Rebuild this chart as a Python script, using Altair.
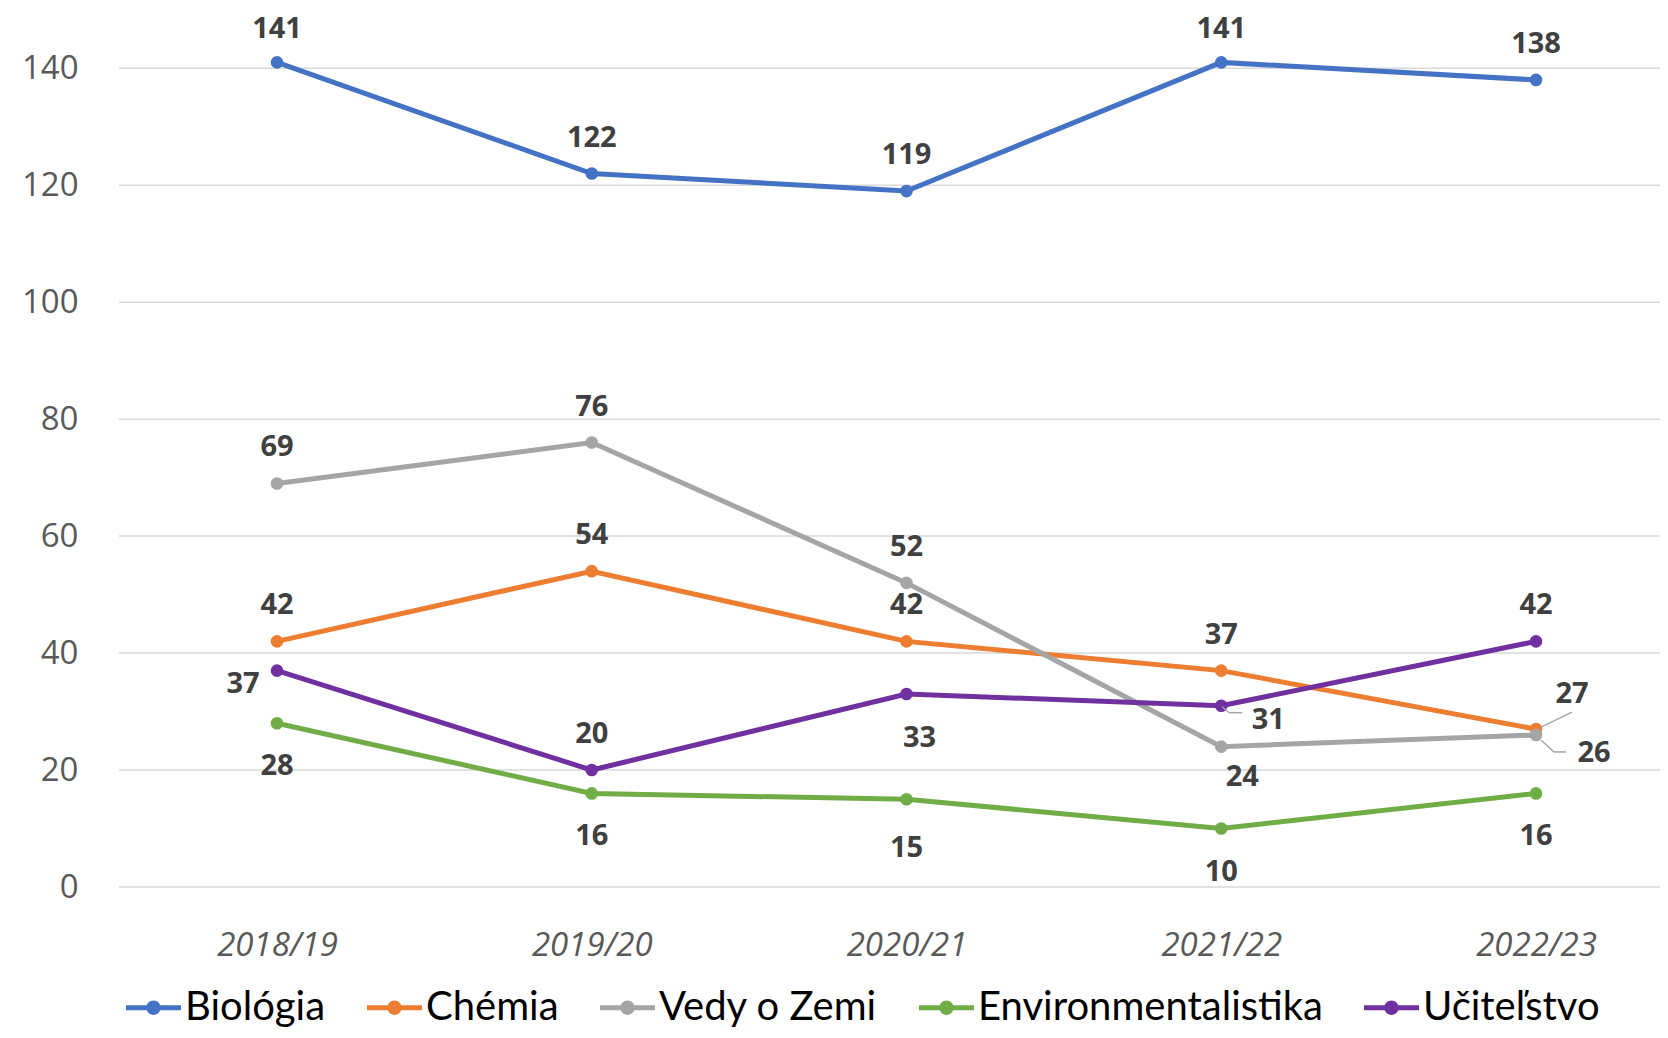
import altair as alt
import pandas as pd

years = ["2018/19", "2019/20", "2020/21", "2021/22", "2022/23"]
series = ["Biológia", "Chémia", "Vedy o Zemi", "Environmentalistika", "Učiteľstvo"]
biologia = [141, 122, 119, 141, 138]
chemia = [42, 54, 42, 37, 27]
vedy = [69, 76, 52, 24, 26]
env = [28, 16, 15, 10, 16]
ucitelstvo = [37, 20, 33, 31, 42]
colors = ["#4472C4", "#ED7D31", "#A5A5A5", "#70AD47", "#7030A0"]
y_ticks = [0, 20, 40, 60, 80, 100, 120, 140]

# label placement per point (style, not data)
placements = {
    "Biológia": ["above_top", "above", "above", "above_top", "above"],
    "Chémia": ["above", "above", "above", "above", "chem27"],
    "Vedy o Zemi": ["above", "above", "above", "vedy24", "vedy26"],
    "Environmentalistika": ["below", "below", "below_far", "below", "below"],
    "Učiteľstvo": ["left", "above", "ucit33", "ucit31", "above"],
}
offsets = {
    "above": (0, -36), "above_top": (0, -33), "below": (0, 43), "below_far": (0, 49),
    "left": (-34, 13), "chem27": (36, -35), "vedy24": (21, 30), "vedy26": (58, 18),
    "ucit33": (13, 44), "ucit31": (47, 14),
}
# leader lines: series, year, x offset, y offset, x2 offset, y2 offset
leaders = [
    ("Učiteľstvo", "2021/22", 1, 1, 8, 7),
    ("Učiteľstvo", "2021/22", 8, 7, 21, 7),
    ("Chémia", "2022/23", 5, -2, 36, -17),
    ("Vedy o Zemi", "2022/23", 5, 5, 18, 17),
    ("Vedy o Zemi", "2022/23", 18, 17, 30, 17),
]

values = [biologia, chemia, vedy, env, ucitelstvo]
rows = []
for s, vals in zip(series, values):
    for y, v, p in zip(years, vals, placements[s]):
        rows.append({"year": y, "series": s, "value": v, "place": p})
df = pd.DataFrame(rows)
grid_df = pd.DataFrame({"tick": y_ticks})

W, H = 1541, 879
x_enc = alt.X("year:N", sort=years,
              scale=alt.Scale(type="point", range=[158, 1417], padding=0),
              axis=alt.Axis(title=None, ticks=False, tickSize=0, domain=False, grid=False,
                            labelFont="Open Sans", labelFontSize=33, labelFontStyle="italic",
                            labelColor="#595959", labelBaseline="middle", labelPadding=58,
                            labelAngle=0))
y_scale = alt.Scale(domain=[0, 150.3], nice=False, zero=True)
y_axis = alt.Axis(title=None, values=y_ticks, ticks=False, tickSize=0, domain=False,
                  grid=False, labelFont="Open Sans", labelFontSize=33,
                  labelColor="#595959", labelPadding=41)
y_enc = alt.Y("value:Q", scale=y_scale, axis=y_axis)
color_scale = alt.Scale(domain=series, range=colors)

legend_symbol = ("M-1,-0.09H1V0.09H-1Z "
                 "M0.26,0A0.26,0.26 0 1,1 -0.26,0A0.26,0.26 0 1,1 0.26,0Z")
legend = alt.Legend(title=None, orient="none", legendX=7, legendY=972,
                    direction="horizontal", symbolType=legend_symbol, symbolSize=3025,
                    symbolStrokeWidth=0, labelFont="Lato",
                    labelFontSize=40, labelColor="#000000", columnPadding=41,
                    labelOffset=4, labelLimit=0, symbolOpacity=1)

base = alt.Chart(df)
layers = [
    alt.Chart(grid_df).mark_rule(color="#D9D9D9", strokeWidth=1.5).encode(
        y=alt.Y("tick:Q", scale=y_scale, axis=y_axis),
        x=alt.value(0), x2=alt.value(W + 20))
]
for s, c in zip(series, colors):
    sub = base.transform_filter(alt.datum.series == s)
    layers.append(sub.mark_line(strokeWidth=5, color=c).encode(x=x_enc, y=y_enc))
    layers.append(sub.mark_point(filled=True, size=160, opacity=1, strokeWidth=0).encode(
        x=x_enc, y=y_enc, color=alt.Color("series:N", scale=color_scale, legend=legend)))

for s, yr, ox, oy, ox2, oy2 in leaders:
    layers.append(base.transform_filter(
        (alt.datum.series == s) & (alt.datum.year == yr)
    ).mark_rule(color="#A6A6A6", strokeWidth=1.5, xOffset=ox, yOffset=oy,
                x2Offset=ox2, y2Offset=oy2).encode(
        x=x_enc, y=y_enc, x2=alt.X2("year"), y2=alt.Y2("value")))

for key, (dx, dy) in offsets.items():
    layers.append(base.transform_filter(alt.datum.place == key).mark_text(
        dx=dx, dy=dy, font="Open Sans", fontSize=29, fontWeight="bold",
        color="#404040", align="center", baseline="middle").encode(
        x=x_enc, y=y_enc, text="value:Q"))

chart = alt.layer(*layers).properties(
    width=W, height=H,
    background="white",
    autosize=alt.AutoSizeParams(type="none"),
    padding={"left": 111, "top": 0, "right": 0, "bottom": 143},
).configure_view(stroke=None)

chart.save("out.html", embed_options={"renderer": "svg", "actions": False})
